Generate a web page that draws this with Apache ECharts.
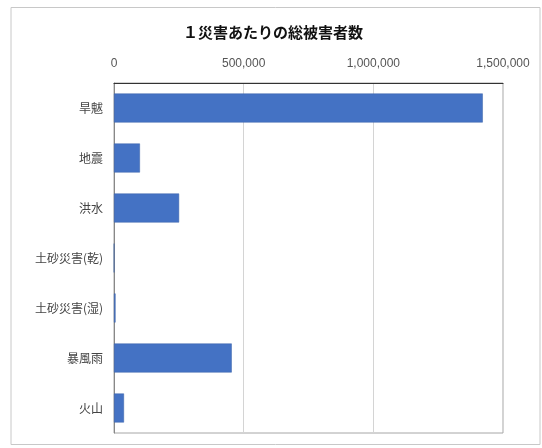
<!DOCTYPE html>
<html><head><meta charset="utf-8">
<script src="https://cdn.jsdelivr.net/npm/echarts@6/dist/echarts.min.js"></script>
<style>html,body{margin:0;padding:0;background:#fff}#c{width:542px;height:448px}</style>
</head><body><div id="c"></div>
<script>
const titleText = '１災害あたりの総被害者数';
const categories = ['旱魃', '地震', '洪水', '土砂災害(乾)', '土砂災害(湿)', '暴風雨', '火山'];
const victims = [1422000, 100000, 251000, 500, 6000, 454000, 38500];
const axisMax = 1500000;
const axisStep = 500000;

const chart = echarts.init(document.getElementById('c'));
chart.setOption({
  backgroundColor: '#fff',
  animation: false,
  title: {
    text: titleText, left: 268, top: 20, textAlign: 'center',
    textStyle: { fontFamily: 'Noto Sans CJK JP', fontSize: 15, fontWeight: 'bold', color: '#111' }
  },
  graphic: [{
    type: 'rect', shape: { x: 11, y: 7.5, width: 529, height: 437 },
    style: { fill: 'none', stroke: '#c8c8c8', lineWidth: 1 }, silent: true, z: -1
  }],
  grid: { left: 114, right: 39, top: 83, bottom: 15, show: true, borderColor: '#a6a6a6', borderWidth: 1 },
  xAxis: {
    type: 'value', position: 'top', min: 0, max: axisMax, interval: axisStep,
    axisLine: { show: true, lineStyle: { color: '#333', width: 1 } },
    axisTick: { show: false },
    splitLine: { show: true, lineStyle: { color: '#d4d4d4' } },
    axisLabel: {
      margin: 13, color: '#555', fontSize: 12, fontFamily: 'Liberation Sans',
      formatter: v => v.toLocaleString('en-US')
    }
  },
  yAxis: {
    type: 'category', data: categories, inverse: true,
    axisLine: { show: true, lineStyle: { color: '#888' } },
    axisTick: { show: false },
    axisLabel: { margin: 11, color: '#444', fontSize: 12, fontFamily: 'Noto Sans CJK JP' }
  },
  series: [{
    type: 'bar', data: victims, barCategoryGap: '42%',
    itemStyle: { color: '#4472C4', borderColor: '#3a62a8', borderWidth: 0.5 }
  }]
});
</script></body></html>
